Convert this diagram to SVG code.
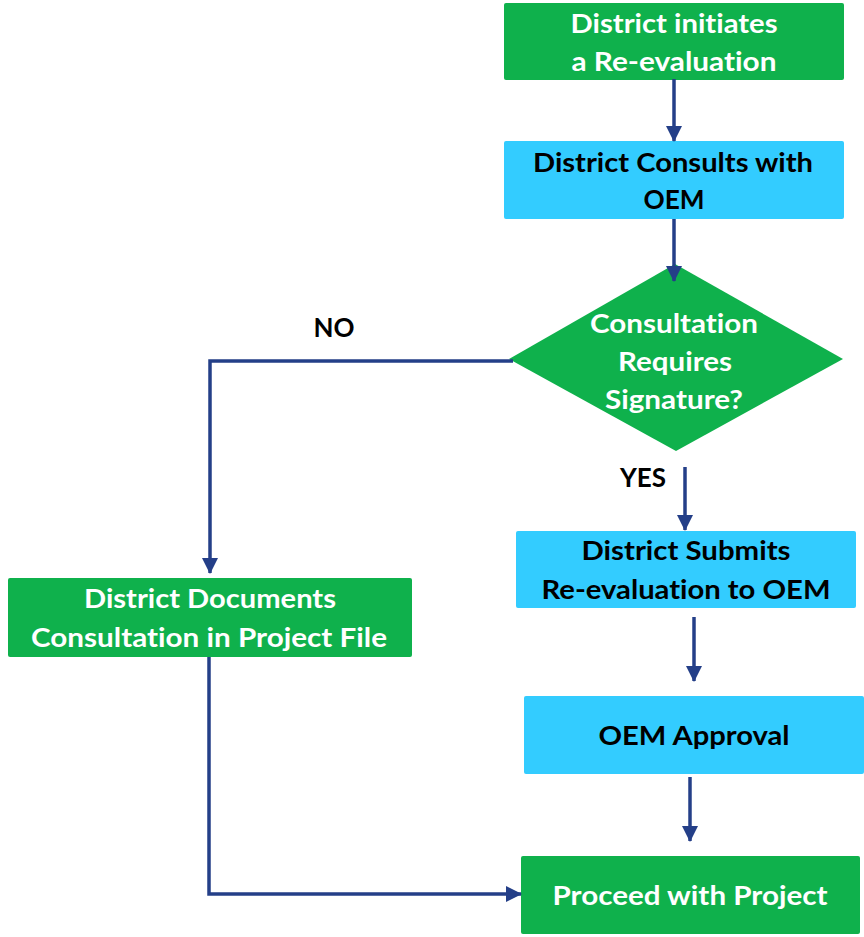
<svg xmlns="http://www.w3.org/2000/svg" width="864" height="937" viewBox="0 0 864 937">
<defs>
<style>
.green{fill:#0FB14C;}
.cyan{fill:#33CCFF;}
.t{font-family:Lato,"Open Sans","Liberation Sans",sans-serif;font-weight:bold;font-size:27px;text-anchor:middle;font-variant-ligatures:none;}
.w{fill:#FFFFFF;}
.k{fill:#000000;}
.c{fill:none;stroke:#243F88;stroke-width:3.5;}
</style>
<marker id="ah" markerUnits="userSpaceOnUse" markerWidth="16" markerHeight="16" refX="15" refY="8" orient="auto" viewBox="0 0 16 16">
<path d="M0,0 L16,8 L0,16 z" fill="#243F88"/>
</marker>
</defs>
<rect width="864" height="937" fill="#FFFFFF"/>
<g id="node-initiate">
<rect class="green" x="504" y="3" width="340" height="77" rx="2"/>
<text class="t w" x="674" y="33" textLength="207" lengthAdjust="spacingAndGlyphs">District initiates</text>
<text class="t w" x="674" y="71" textLength="205" lengthAdjust="spacingAndGlyphs">a Re-evaluation</text>
</g>
<g id="node-consult">
<rect class="cyan" x="504" y="141" width="340" height="78" rx="2"/>
<text class="t k" x="673" y="172" textLength="280" lengthAdjust="spacingAndGlyphs">District Consults with</text>
<text class="t k" x="674" y="209" textLength="61" lengthAdjust="spacingAndGlyphs">OEM</text>
</g>
<g id="node-decision">
<polygon class="green" points="675,264 843,359 676,451 509,359"/>
<text class="t w" x="674" y="333" textLength="168" lengthAdjust="spacingAndGlyphs">Consultation</text>
<text class="t w" x="675" y="371" textLength="114" lengthAdjust="spacingAndGlyphs">Requires</text>
<text class="t w" x="674" y="409" textLength="138" lengthAdjust="spacingAndGlyphs">Signature?</text>
</g>
<g id="label-no">
<text class="t k" x="334" y="337" textLength="41" lengthAdjust="spacingAndGlyphs">NO</text>
</g>
<g id="label-yes">
<text class="t k" x="643" y="487" textLength="46" lengthAdjust="spacingAndGlyphs">YES</text>
</g>
<g id="node-documents">
<rect class="green" x="8" y="578" width="404" height="79" rx="2"/>
<text class="t w" x="210" y="608" textLength="252" lengthAdjust="spacingAndGlyphs">District Documents</text>
<text class="t w" x="209" y="647" textLength="356" lengthAdjust="spacingAndGlyphs">Consultation in Project File</text>
</g>
<g id="node-submits">
<rect class="cyan" x="516" y="531" width="340" height="77" rx="2"/>
<text class="t k" x="686" y="560" textLength="209" lengthAdjust="spacingAndGlyphs">District Submits</text>
<text class="t k" x="686" y="599" textLength="289" lengthAdjust="spacingAndGlyphs">Re-evaluation to OEM</text>
</g>
<g id="node-approval">
<rect class="cyan" x="524" y="696" width="340" height="78" rx="2"/>
<text class="t k" x="694" y="745" textLength="191" lengthAdjust="spacingAndGlyphs">OEM Approval</text>
</g>
<g id="node-proceed">
<rect class="green" x="521" y="856" width="339" height="78" rx="2"/>
<text class="t w" x="690" y="905" textLength="275" lengthAdjust="spacingAndGlyphs">Proceed with Project</text>
</g>
<g id="connectors">
<line class="c" x1="674" y1="79" x2="674" y2="141" marker-end="url(#ah)"/>
<line class="c" x1="674" y1="219" x2="674" y2="281" marker-end="url(#ah)"/>
<polyline class="c" points="513,361 210,361 210,573" marker-end="url(#ah)"/>
<line class="c" x1="685" y1="467" x2="685" y2="530" marker-end="url(#ah)"/>
<line class="c" x1="694" y1="617" x2="694" y2="681" marker-end="url(#ah)"/>
<line class="c" x1="690" y1="777" x2="690" y2="841" marker-end="url(#ah)"/>
<polyline class="c" points="209,657 209,894 521,894" marker-end="url(#ah)"/>
</g>
</svg>
